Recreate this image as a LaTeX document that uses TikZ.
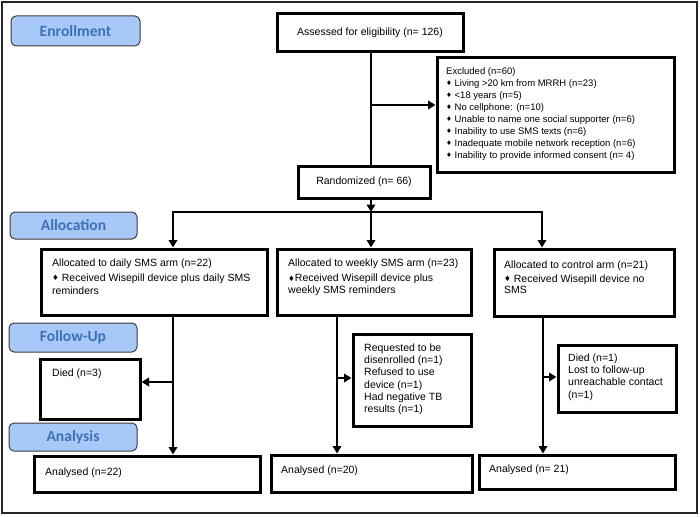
\documentclass[tikz,border=0pt]{standalone}
\usepackage{fontspec}
\setmainfont{Liberation Sans}
\newfontfamily\labfont{Carlito}
\newfontfamily\symfont{DejaVu Sans}
\usetikzlibrary{arrows.meta}
\definecolor{phasefill}{RGB}{168,201,247}
\definecolor{phasetext}{RGB}{62,112,182}
\definecolor{phaseedge}{RGB}{60,60,60}
\newcommand\dia{{\symfont\fontsize{6.5}{6.5}\selectfont\raisebox{0.8pt}{♦}}}
\newcommand\diab{{\symfont\fontsize{7.5}{7.5}\selectfont\raisebox{0.6pt}{♦}}}
\tikzset{
 box/.style={draw, line width=3pt, inner sep=0pt},
 phase/.style={draw=phaseedge, line width=1pt, fill=phasefill, rounded corners=5pt, inner sep=0pt,
   font=\labfont\bfseries\fontsize{15.6}{16}\selectfont, text=phasetext},
 txt/.style={inner sep=0pt, align=left, font=\fontsize{10.5}{13.5}\selectfont},
 ftxt/.style={inner sep=0pt, align=left, font=\fontsize{10.5}{12.3}\selectfont},
 small/.style={inner sep=0pt, align=left, font=\fontsize{9.5}{12}\selectfont},
 conn/.style={line width=2.8pt},
 arr/.style={conn, -{Triangle[length=7.5pt,width=8.5pt]}},
}
\begin{document}
\begin{tikzpicture}[x=1pt,y=-1pt]
\useasboundingbox (0,0) rectangle (700,516);
\node[draw=black!85, line width=2.2pt, minimum width=695pt, minimum height=511pt, inner sep=0pt] (frame) at (349.5,257.5) {};

% phase labels
\node[phase, minimum width=129pt, minimum height=30pt] (enroll) at (75.5,31) {Enrollment};
\node[phase, minimum width=127pt, minimum height=27pt] (alloc) at (73.5,225.5) {Allocation};
\node[phase, minimum width=128pt, minimum height=29pt] (follow) at (73,337.5) {Follow-Up};
\node[phase, minimum width=128pt, minimum height=28pt] (analysis) at (73,437) {Analysis};

% boxes
\node[box, minimum width=186pt, minimum height=38pt, font=\fontsize{10.5}{12}\selectfont] (assess) at (370,33) {Assessed for eligibility (n= 126)};
\node[box, minimum width=237pt, minimum height=114pt] (excl) at (555.5,115) {};
\node[box, minimum width=132pt, minimum height=32pt, font=\fontsize{10.5}{12}\selectfont] (rand) at (364,182) {Randomized (n= 66)};
\node[box, minimum width=226pt, minimum height=66pt] (daily) at (154,282) {};
\node[box, minimum width=194pt, minimum height=66pt] (weekly) at (374,282) {};
\node[box, minimum width=180pt, minimum height=67pt] (control) at (584,282.5) {};
\node[box, minimum width=100pt, minimum height=60pt] (died3) at (90,389) {};
\node[box, minimum width=118pt, minimum height=92pt] (wfu) at (412,380) {};
\node[box, minimum width=118pt, minimum height=67pt] (cfu) at (617,378.5) {};
\node[box, minimum width=226pt, minimum height=36pt] (an1) at (147,474) {};
\node[box, minimum width=201pt, minimum height=37pt] (an2) at (371.5,473.5) {};
\node[box, minimum width=196pt, minimum height=34pt] (an3) at (577,472) {};

% texts
\node[small, anchor=north west] (exclT) at (446,67.5) {Excluded (n=60)\\
\dia\ Living {>}20 km from MRRH (n=23)\\
\dia\ {<}18 years (n=5)\\
\dia\ No cellphone: (n=10)\\
\dia\ Unable to name one social supporter (n=6)\\
\dia\ Inability to use SMS texts (n=6)\\
\dia\ Inadequate mobile network reception (n=6)\\
\dia\ Inability to provide informed consent (n= 4)};
\node[txt, anchor=north west] (dailyT) at (52,259) {Allocated to daily SMS arm (n=22)\\[1pt]
\diab\ Received Wisepill device plus daily SMS\\reminders};
\node[txt, anchor=north west] (weeklyT) at (288,259) {Allocated to weekly SMS arm (n=23)\\[1.5pt]
\diab Received Wisepill device plus\\[-1.5pt]weekly SMS reminders};
\node[txt, anchor=north west] (controlT) at (504,261) {Allocated to control arm (n=21)\\
\diab\ Received Wisepill device no\\[-2pt]SMS};
\node[txt, anchor=west] (died3T) at (52,374) {Died (n=3)};
\node[ftxt, anchor=north west] (wfuT) at (364,343.5) {Requested to be\\disenrolled (n=1)\\Refused to use\\device (n=1)\\Had negative TB\\results (n=1)};
\node[ftxt, anchor=north west] (cfuT) at (568,353.5) {Died (n=1)\\Lost to follow-up\\unreachable contact\\(n=1)};
\node[txt, anchor=west] (an1T) at (45,473) {Analysed (n=22)};
\node[txt, anchor=west] (an2T) at (281,471) {Analysed (n=20)};
\node[txt, anchor=west] (an3T) at (489,470) {Analysed (n= 21)};

% connector coordinates
\coordinate (xA) at (371,0);
\coordinate (ex) at (371,105);
\coordinate (br) at (371,212);
\coordinate (bl) at (173,212);
\coordinate (brr) at (542,212);
\coordinate (xd) at (173,0);
\coordinate (d1) at (173,382);
\coordinate (xw) at (337,0);
\coordinate (w1) at (337,378);
\coordinate (xc) at (543,0);
\coordinate (c1) at (543,377);

% connectors
\draw[conn] (xA |- assess.south) -- (xA |- rand.north);
\draw[arr] (ex) -- (ex -| excl.west);
\draw[arr] (xA |- rand.south) -- (br);
\draw[arr] (br) -- (bl) -- (bl |- daily.north);
\draw[arr] (br) -- (brr) -- (brr |- control.north);
\draw[arr] (br) -- (br |- weekly.north);
\draw[arr] (xd |- daily.south) -- (xd |- an1.north);
\draw[arr] (d1) -- (d1 -| died3.east);
\draw[arr] (xw |- weekly.south) -- (xw |- an2.north);
\draw[arr] (w1) -- (w1 -| wfu.west);
\draw[arr] (xc |- control.south) -- (xc |- an3.north);
\draw[arr] (c1) -- (c1 -| cfu.west);
\end{tikzpicture}
\end{document}
